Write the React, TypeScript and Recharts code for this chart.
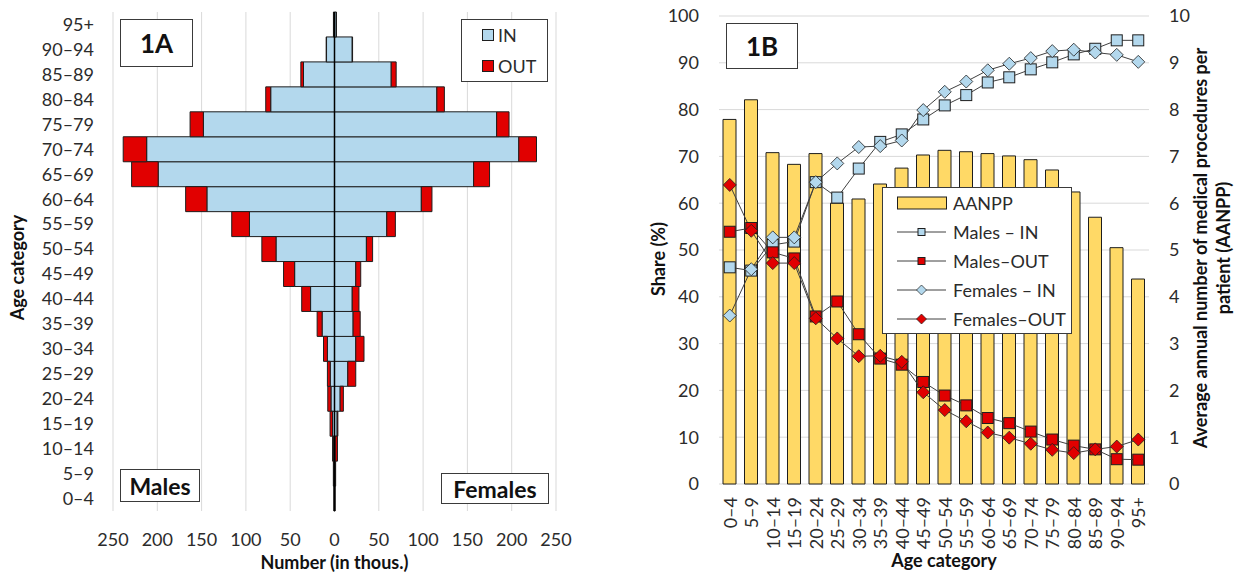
import React from 'react';
import {
  BarChart,
  Bar,
  XAxis,
  YAxis,
  CartesianGrid,
  ReferenceLine,
  ReferenceArea,
  Legend,
  ComposedChart,
  Line,
} from 'recharts';

// ---------- data ----------
const ageCategories = [
  '0–4', '5–9', '10–14', '15–19', '20–24', '25–29', '30–34', '35–39', '40–44', '45–49',
  '50–54', '55–59', '60–64', '65–69', '70–74', '75–79', '80–84', '85–89', '90–94', '95+',
];

// Panel 1A (number of patients, thousands)
const malesInA = [0.3, 0.8, 1.2, 2.2, 4, 4.8, 8, 14, 27, 45, 66, 96, 144, 199, 212, 148, 72, 35, 9, 1];
const malesOutA = [0.3, 0.5, 1, 2.8, 3.6, 3.2, 4.4, 5.6, 10, 12.5, 16, 20, 24, 30, 26.5, 15, 5.6, 3, 0.4, 0.2];
const femalesInA = [0.3, 0.8, 0.8, 3, 6.4, 15, 24, 21, 20, 24, 36, 59, 98, 157, 208, 183, 115.5, 64, 20, 2];
const femalesOutA = [0.3, 0.5, 2.5, 0.8, 3.6, 9, 9.3, 8, 7.6, 5.6, 7, 9.7, 12, 18, 20, 14, 8.5, 5.6, 0.4, 0.2];
const xTicksA = [-250, -200, -150, -100, -50, 0, 50, 100, 150, 200, 250];

// Panel 1B
const aanpp = [7.79, 8.21, 7.08, 6.83, 7.06, 6.0, 6.09, 6.41, 6.75, 7.03, 7.13, 7.1, 7.06, 7.01, 6.93, 6.71, 6.24, 5.7, 5.05, 4.38];
const malesInB = [46.3, 45.6, 51.1, 51.8, 64.5, 61.2, 67.4, 73.1, 74.7, 77.9, 80.9, 83.1, 85.8, 86.9, 88.6, 90.1, 91.8, 93.0, 94.8, 94.8];
const malesOutB = [53.9, 54.7, 49.5, 48.2, 35.8, 39.0, 32.0, 26.8, 25.5, 21.8, 18.9, 16.8, 14.1, 13.0, 11.2, 9.5, 8.2, 7.4, 5.3, 5.2];
const femalesInB = [36.0, 45.9, 52.7, 52.7, 64.5, 68.5, 72.0, 72.2, 73.4, 79.9, 83.8, 86.0, 88.4, 89.8, 91.0, 92.5, 92.8, 92.2, 91.7, 90.2];
const femalesOutB = [63.9, 54.1, 47.2, 47.2, 35.4, 31.1, 27.3, 27.4, 26.1, 19.6, 15.8, 13.4, 11.0, 9.9, 8.6, 7.3, 6.6, 7.4, 8.0, 9.5];
const shareTicks = [0, 10, 20, 30, 40, 50, 60, 70, 80, 90, 100];
const aanppTicks = [0, 1, 2, 3, 4, 5, 6, 7, 8, 9, 10];

const legendLabelsA = ['IN', 'OUT'];
const legendLabelsB = ['AANPP', 'Males – IN', 'Males–OUT', 'Females – IN', 'Females–OUT'];

// ---------- styles ----------
const FONT = 'Lato, "Open Sans", "Noto Sans", sans-serif';
const BLUE = '#B3D8ED';
const RED = '#E10000';
const GOLD = '#FFD966';
const EDGE = '#1e1e1e';
const LINE = '#404040';
const GRID = '#d9d9d9';
const TXT = '#2b2b2b';
const BOX = '#3a3a3a';

const dataA = ageCategories.map((age, i) => ({
  age,
  mIn: -malesInA[i],
  mOut: -malesOutA[i],
  fIn: femalesInA[i],
  fOut: femalesOutA[i],
}));

const dataB = ageCategories.map((age, i) => ({
  age,
  aanpp: aanpp[i],
  mIn: malesInB[i],
  mOut: malesOutB[i],
  fIn: femalesInB[i],
  fOut: femalesOutB[i],
}));

const boxStyle = (left: number, top: number, width: number, height: number, fontSize: number): React.CSSProperties => ({
  position: 'absolute',
  left,
  top,
  width,
  height,
  border: `1.5px solid ${BOX}`,
  background: '#fff',
  boxSizing: 'border-box',
  display: 'flex',
  alignItems: 'center',
  justifyContent: 'center',
  fontWeight: 700,
  fontSize,
  color: '#111',
  fontFamily: FONT,
});

// ---------- markers ----------
const squareDot = (fill: string, half: number) => (props: any) => {
  const { cx, cy, index } = props;
  if (cx == null || cy == null) return <g key={`s-${index}`} />;
  return (
    <rect key={`s-${fill}-${index}`} x={cx - half} y={cy - half} width={half * 2} height={half * 2}
      fill={fill} stroke={EDGE} strokeWidth={1} />
  );
};
const diamondDot = (fill: string, half: number) => (props: any) => {
  const { cx, cy, index } = props;
  if (cx == null || cy == null) return <g key={`d-${index}`} />;
  return (
    <polygon key={`d-${fill}-${index}`}
      points={`${cx},${cy - half} ${cx + half},${cy} ${cx},${cy + half} ${cx - half},${cy}`}
      fill={fill} stroke={EDGE} strokeWidth={0.8} />
  );
};

// ---------- legends ----------
const LegendA = () => (
  <div style={{ position: 'relative', width: 87, height: 63, border: `1.5px solid ${BOX}`, background: '#fff', boxSizing: 'border-box', fontFamily: FONT, fontSize: 18, color: TXT }}>
    {legendLabelsA.map((lab, i) => (
      <div key={lab} style={{ position: 'absolute', left: 20, top: 15 + i * 30.5 - 11, height: 22, display: 'flex', alignItems: 'center' }}>
        <div style={{ width: 10, height: 10, background: i === 0 ? BLUE : RED, border: `1px solid ${EDGE}` }} />
        <span style={{ marginLeft: 4 }}>{lab}</span>
      </div>
    ))}
  </div>
);

const LegendB = () => (
  <div style={{ position: 'relative', width: 190, height: 147, border: `1.5px solid ${BOX}`, background: '#fff', boxSizing: 'border-box', fontFamily: FONT, fontSize: 18, color: TXT }}>
    {legendLabelsB.map((lab, i) => (
      <div key={lab} style={{ position: 'absolute', left: 0, top: 14.5 + i * 29 - 12, height: 24, display: 'flex', alignItems: 'center', whiteSpace: 'nowrap' }}>
        <svg width={64} height={24}>
          {i === 0 ? (
            <rect x={14.5} y={6} width={49} height={12} fill={GOLD} stroke={EDGE} strokeWidth={1} />
          ) : (
            <g>
              <line x1={14} x2={63} y1={12} y2={12} stroke={LINE} strokeWidth={1} />
              {i <= 2 ? (
                <rect x={35} y={8.5} width={7} height={7} fill={i === 1 ? BLUE : RED} stroke={EDGE} strokeWidth={1} />
              ) : (
                <polygon points="38.5,7 43.5,12 38.5,17 33.5,12" fill={i === 3 ? BLUE : RED} stroke={EDGE} strokeWidth={0.7} />
              )}
            </g>
          )}
        </svg>
        <span style={{ marginLeft: 6 }}>{lab}</span>
      </div>
    ))}
  </div>
);

// ---------- ticks / labels ----------
const AgeTickB = (props: any) => {
  const { x, y, payload } = props;
  const ty = y + 13;
  return (
    <text x={x} y={ty} transform={`rotate(-90, ${x}, ${ty})`} textAnchor="end" dominantBaseline="central"
      fontSize={18} fill={TXT} fontFamily={FONT}>
      {payload.value}
    </text>
  );
};

const tickStyle = { fontSize: 18, fill: TXT, fontFamily: FONT };

function ChartA() {
  return (
    <div style={{ position: 'absolute', left: 0, top: 0, width: 600, height: 574 }}>
      <BarChart width={600} height={574} data={dataA} layout="vertical" stackOffset="sign"
        barCategoryGap={0} barGap={0} margin={{ top: 12, right: 44, bottom: 0, left: 0 }}>
        <CartesianGrid horizontal={false} stroke={GRID} />
        <XAxis type="number" domain={[-250, 250]} ticks={xTicksA} interval={0}
          tickFormatter={(v: number) => String(Math.abs(v))}
          tickLine={false} axisLine={false} tickSize={0} tickMargin={22} height={63} tick={tickStyle}
          label={(p: any) => {
            const vb = p.viewBox;
            return (
              <text x={vb.x + vb.width / 2} y={vb.y + 58} textAnchor="middle" fontSize={18} fontWeight={700}
                fill="#111" fontFamily={FONT}>Number (in thous.)</text>
            );
          }} />
        <YAxis type="category" dataKey="age" reversed width={113} interval={0}
          tickLine={false} axisLine={false} tickSize={0} tickMargin={19} tick={tickStyle}
          label={(p: any) => {
            const vb = p.viewBox;
            const cy = vb.y + vb.height / 2 + 6;
            return (
              <text x={24} y={cy} transform={`rotate(-90, 24, ${cy})`} textAnchor="middle" fontSize={18}
                fontWeight={700} fill="#111" fontFamily={FONT}>Age category</text>
            );
          }} />
        <Bar dataKey="mIn" name="Males IN" stackId="a" fill={BLUE} stroke={EDGE} strokeWidth={1} isAnimationActive={false} />
        <Bar dataKey="mOut" name="Males OUT" stackId="a" fill={RED} stroke={EDGE} strokeWidth={1} isAnimationActive={false} />
        <Bar dataKey="fIn" name="Females IN" stackId="a" fill={BLUE} stroke={EDGE} strokeWidth={1} isAnimationActive={false} />
        <Bar dataKey="fOut" name="Females OUT" stackId="a" fill={RED} stroke={EDGE} strokeWidth={1} isAnimationActive={false} />
        <ReferenceLine x={0} stroke="#000" strokeWidth={1.5} />
        <ReferenceArea fill="none" fillOpacity={0} stroke={LINE} strokeWidth={1.2} />
        <Legend layout="vertical" align="center" verticalAlign="middle" content={() => <LegendA />}
          wrapperStyle={{ left: 461, top: 19, width: 87, height: 63 }} />
      </BarChart>
      <div style={boxStyle(120, 19, 73, 48, 26)}>1A</div>
      <div style={boxStyle(120, 469, 80, 33, 23)}>Males</div>
      <div style={boxStyle(441, 473, 108, 31, 23)}>Females</div>
    </div>
  );
}

function ChartB() {
  return (
    <div style={{ position: 'absolute', left: 600, top: 0, width: 640, height: 574 }}>
      <ComposedChart width={640} height={574} data={dataB} margin={{ top: 16, right: 0, bottom: 0, left: 0 }}>
        <CartesianGrid vertical={false} stroke={GRID} yAxisId="left" />
        <XAxis dataKey="age" interval={0} tickLine={false} axisLine={false} height={90}
          tickSize={0} tickMargin={0} tick={<AgeTickB />}
          label={(p: any) => {
            const vb = p.viewBox;
            return (
              <text x={vb.x + vb.width / 2 + 10} y={vb.y + 83} textAnchor="middle" fontSize={18} fontWeight={700}
                fill="#111" fontFamily={FONT}>Age category</text>
            );
          }} />
        <YAxis yAxisId="left" domain={[0, 100]} ticks={shareTicks} interval={0} width={119}
          tickLine={false} axisLine={false} tickSize={0} tickMargin={20} tick={tickStyle}
          label={(p: any) => {
            const vb = p.viewBox;
            const cy = vb.y + vb.height / 2 + 9;
            const cx = 65;
            return (
              <text x={cx} y={cy} transform={`rotate(-90, ${cx}, ${cy})`} textAnchor="middle" fontSize={18}
                fontWeight={700} fill="#111" fontFamily={FONT}>Share (%)</text>
            );
          }} />
        <YAxis yAxisId="right" orientation="right" domain={[0, 10]} ticks={aanppTicks} interval={0} width={91}
          tickLine={false} axisLine={false} tickSize={0} tickMargin={20} tick={tickStyle}
          label={(p: any) => {
            const vb = p.viewBox;
            const cy = vb.y + vb.height / 2 - 2;
            const x1 = vb.x + 58;
            const x2 = vb.x + 81;
            return (
              <g>
                <text x={x1} y={cy} transform={`rotate(-90, ${x1}, ${cy})`} textAnchor="middle" fontSize={18}
                  fontWeight={700} fill="#111" fontFamily={FONT}>Average annual number of medical procedures per</text>
                <text x={x2} y={cy} transform={`rotate(-90, ${x2}, ${cy})`} textAnchor="middle" fontSize={18}
                  fontWeight={700} fill="#111" fontFamily={FONT}>patient (AANPP)</text>
              </g>
            );
          }} />
        <Bar yAxisId="right" dataKey="aanpp" name="AANPP" fill={GOLD} stroke={EDGE} strokeWidth={1} barSize={13} isAnimationActive={false} />
        <Line yAxisId="left" dataKey="mIn" name="Males – IN" stroke={LINE} strokeWidth={1} dot={squareDot(BLUE, 5.5)} activeDot={false} isAnimationActive={false} />
        <Line yAxisId="left" dataKey="mOut" name="Males–OUT" stroke={LINE} strokeWidth={1} dot={squareDot(RED, 5.5)} activeDot={false} isAnimationActive={false} />
        <Line yAxisId="left" dataKey="fIn" name="Females – IN" stroke={LINE} strokeWidth={1} dot={diamondDot(BLUE, 6.5)} activeDot={false} isAnimationActive={false} />
        <Line yAxisId="left" dataKey="fOut" name="Females–OUT" stroke={LINE} strokeWidth={1} dot={diamondDot(RED, 6.5)} activeDot={false} isAnimationActive={false} />
        <ReferenceArea yAxisId="left" fill="none" fillOpacity={0} stroke={LINE} strokeWidth={1.2} />
        <Legend layout="vertical" align="center" verticalAlign="middle" content={() => <LegendB />}
          wrapperStyle={{ left: 282, top: 187, width: 190, height: 147 }} />
      </ComposedChart>
      <div style={boxStyle(126, 23, 72, 46, 26)}>1B</div>
    </div>
  );
}

export default function App() {
  return (
    <div style={{ position: 'absolute', left: 0, top: 0, width: 1240, height: 574, background: '#fff', fontFamily: FONT, overflow: 'hidden' }}>
      <ChartA />
      <ChartB />
    </div>
  );
}
